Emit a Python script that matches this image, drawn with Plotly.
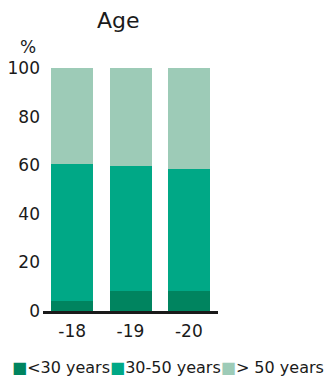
import plotly.graph_objects as go

years = ['-18', '-19', '-20']
under_30 = [4.3, 8.4, 8.4]
mid_30_50 = [56.2, 51.3, 50.0]
over_50 = [39.5, 40.3, 41.6]

names = ['<30 years', '30-50 years', '> 50 years']
colors = ['#00845f', '#00a886', '#9dcbb7']

fig = go.Figure()
for name, vals, col in zip(names, [under_30, mid_30_50, over_50], colors):
    fig.add_trace(go.Bar(x=years, y=vals, name=name, marker=dict(color=col, line=dict(width=0))))

font = 'DejaVu Sans'
fig.update_layout(
    width=331, height=377,
    barmode='stack', bargap=0.28,
    margin=dict(l=43, r=113, t=68, b=66),
    plot_bgcolor='white', paper_bgcolor='white',
    showlegend=False,
    font=dict(family=font, color='#1a1a1a'),
)
fig.update_yaxes(range=[0, 100], dtick=20, showgrid=False, zeroline=False,
                 tickfont=dict(size=17), ticks='', ticklabelstandoff=2, automargin=False)
fig.update_xaxes(showline=True, linewidth=3, linecolor='#1a1a1a', showgrid=False,
                 tickfont=dict(size=17), ticks='', ticklabelstandoff=3, automargin=False)

# title and unit
fig.add_annotation(text='Age', xref='paper', yref='paper', x=0.43, y=1.0, yshift=48,
                   showarrow=False, font=dict(size=22), xanchor='center', yanchor='middle')
fig.add_annotation(text='%', xref='paper', yref='paper', x=-0.086, y=1.0, yshift=21,
                   showarrow=False, font=dict(size=17), xanchor='center', yanchor='middle')

# legend row
leg = ''.join(f"<span style='color:{c}'>■</span>{n}" for n, c in zip(names, colors))
fig.add_annotation(text=leg, xref='paper', yref='paper', x=-0.19, y=0, yshift=-56,
                   showarrow=False, font=dict(size=16), xanchor='left', yanchor='middle')

fig.write_html('out.html', config={'displayModeBar': False},
               post_script="document.body.style.margin='0';")
